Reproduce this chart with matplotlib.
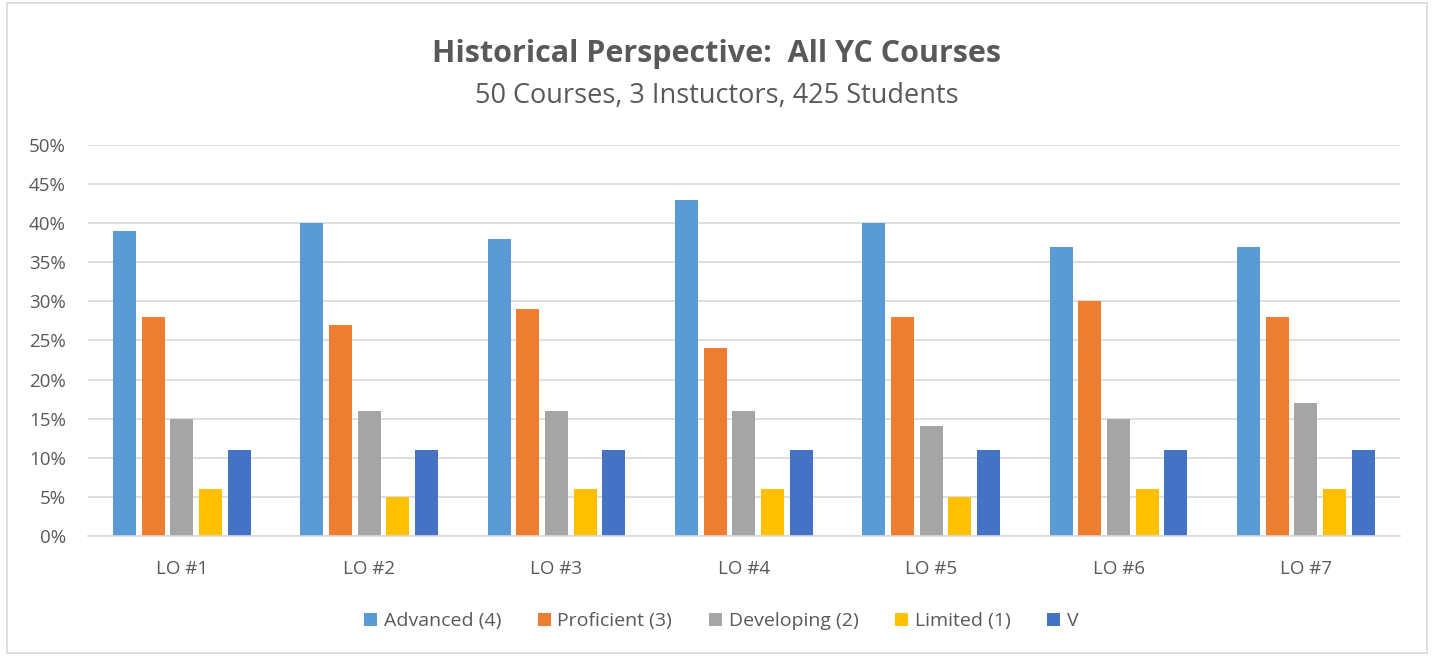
import numpy as np
import matplotlib.pyplot as plt
from matplotlib.patches import Rectangle

categories = ["LO #1", "LO #2", "LO #3", "LO #4", "LO #5", "LO #6", "LO #7"]
series_names = ["Advanced (4)", "Proficient (3)", "Developing (2)", "Limited (1)", "V"]
advanced = [39, 40, 38, 43, 40, 37, 37]
proficient = [28, 27, 29, 24, 28, 30, 28]
developing = [15, 16, 16, 16, 14, 15, 17]
limited = [6, 5, 6, 6, 5, 6, 6]
v_series = [11, 11, 11, 11, 11, 11, 11]
colors = ["#5B9BD5", "#ED7D31", "#A5A5A5", "#FFC000", "#4472C4"]

plt.rcParams['font.family'] = ['Open Sans', 'DejaVu Sans']
txt = "#595959"

fig = plt.figure(figsize=(14.34, 6.56), dpi=100)
ax = fig.add_axes([0.0614, 0.183, 0.9146, 0.596])

x = np.arange(len(categories))
step = 0.153
width = 0.123
all_series = [advanced, proficient, developing, limited, v_series]
for i, (vals, name, c) in enumerate(zip(all_series, series_names, colors)):
    ax.bar(x + (i - 2) * step, np.array(vals) / 100, width, color=c, label=name, zorder=2)

ax.set_xlim(-0.5, len(categories) - 0.5)
ax.set_ylim(0, 0.5)
ax.set_yticks(np.arange(0, 0.51, 0.05))
ax.set_yticklabels([f"{int(round(t*100))}%" for t in np.arange(0, 0.51, 0.05)])
ax.set_xticks(x)
ax.set_xticklabels(categories)
ax.tick_params(axis='both', length=0, labelsize=13.5, colors=txt)
ax.tick_params(axis='x', pad=17)
ax.tick_params(axis='y', pad=16)
ax.grid(axis='y', color="#D9D9D9", linewidth=1.2, zorder=0)
for s in ["top", "right", "left"]:
    ax.spines[s].set_visible(False)
ax.spines["bottom"].set_color("#D9D9D9")
ax.spines["bottom"].set_linewidth(1.2)

fig.text(0.5, 0.918, "Historical Perspective:  All YC Courses", ha="center", va="center",
         fontsize=22, fontweight="bold", color=txt)
fig.text(0.5, 0.853, "50 Courses, 3 Instuctors, 425 Students", ha="center", va="center",
         fontsize=19.5, color=txt)

fig.legend(loc="center", bbox_to_anchor=(0.503, 0.053), ncol=5, frameon=False,
           fontsize=14, labelcolor=txt, handlelength=0.65, handleheight=0.65,
           handletextpad=0.35, columnspacing=1.9)

fig.patches.append(Rectangle((0.005, 0.005), 0.99, 0.99, transform=fig.transFigure,
                             fill=False, edgecolor="#D9D9D9", linewidth=1.2))

fig.savefig("out.png", dpi=100)
